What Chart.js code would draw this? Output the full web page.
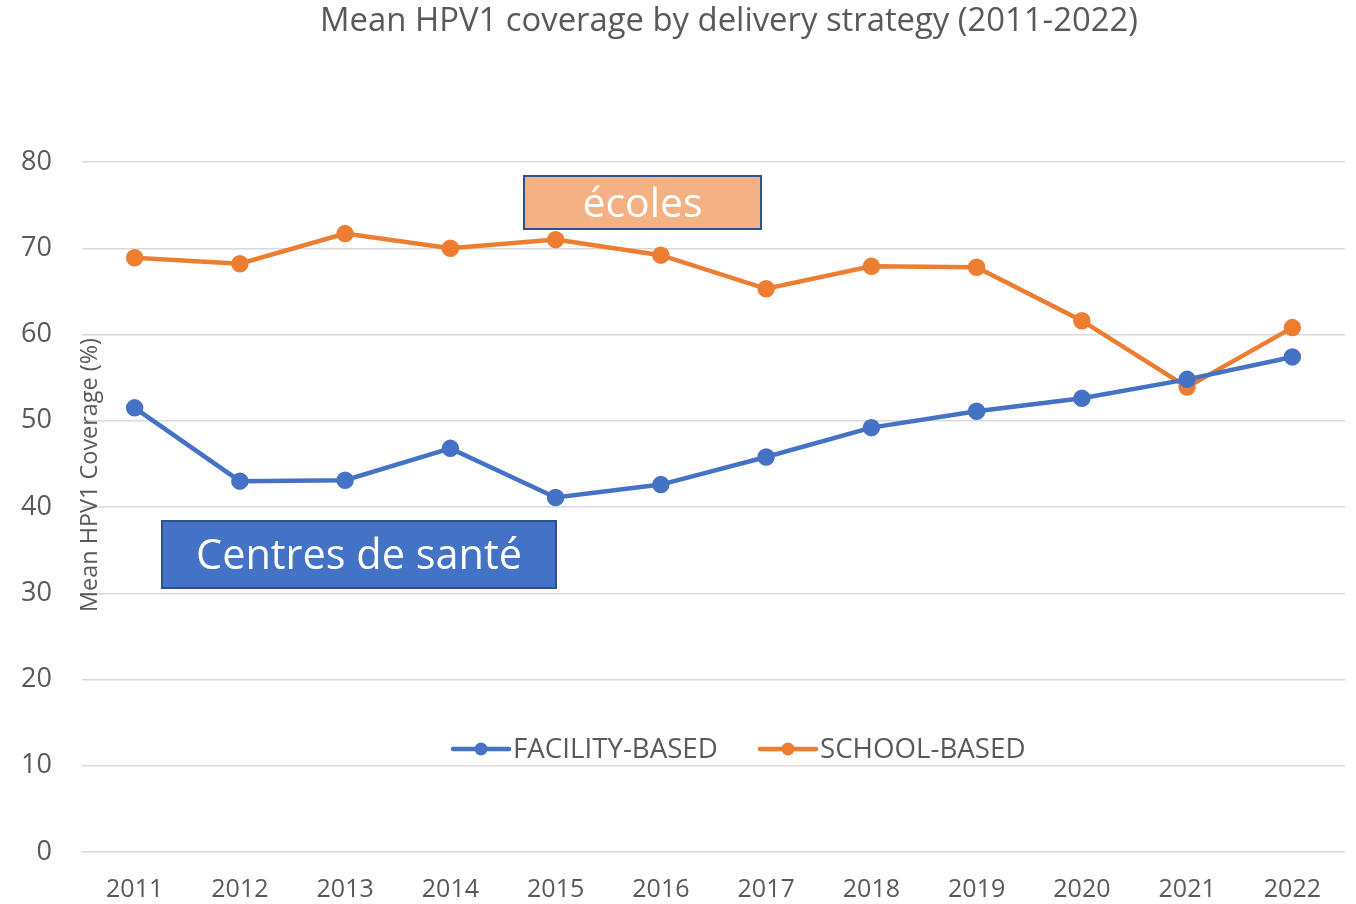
<!DOCTYPE html>
<html><head><meta charset="utf-8">
<script src="https://cdn.jsdelivr.net/npm/chart.js@4.4.0/dist/chart.umd.min.js"></script>
<style>html,body{margin:0;padding:0;background:#fff;}#wrap{width:1356px;height:904px;}</style>
</head><body><div id="wrap"><canvas id="c" width="1356" height="904"></canvas></div>
<script>
const years = ['2011','2012','2013','2014','2015','2016','2017','2018','2019','2020','2021','2022'];
const facilityBased = [51.5, 43.0, 43.1, 46.8, 41.1, 42.6, 45.8, 49.2, 51.1, 52.6, 54.8, 57.4];
const schoolBased = [68.9, 68.2, 71.7, 70.0, 71.0, 69.2, 65.3, 67.9, 67.8, 61.6, 53.9, 60.8];
const seriesNames = ['FACILITY-BASED', 'SCHOOL-BASED'];
const titleText = 'Mean HPV1 coverage by delivery strategy (2011-2022)';
const yAxisTitle = 'Mean HPV1 Coverage (%)';
const FONT = '"Open Sans", "Liberation Sans", sans-serif';
const TXT = '#595959';
const BLUE = '#4472C4', ORANGE = '#ED7D31';

function fitFont(ctx, text, targetW, base, weight) {
  ctx.font = (weight||'') + ' ' + base + 'px ' + FONT;
  const w = ctx.measureText(text).width;
  return base * targetW / w;
}

const overlay = {
  id: 'overlay',
  afterDraw(chart) {
    const ctx = chart.ctx;
    ctx.save();
    // title
    let fs = fitFont(ctx, titleText, 818, 28);
    ctx.font = fs + 'px ' + FONT; ctx.fillStyle = TXT;
    ctx.textAlign = 'center'; ctx.textBaseline = 'middle';
    ctx.fillText(titleText, 729, 22);
    // y-axis title
    fs = fitFont(ctx, yAxisTitle, 274, 20);
    ctx.save();
    ctx.translate(90, 475); ctx.rotate(-Math.PI/2);
    ctx.font = fs + 'px ' + FONT; ctx.fillStyle = TXT;
    ctx.textAlign = 'center'; ctx.textBaseline = 'middle';
    ctx.fillText(yAxisTitle, 0, 0);
    ctx.restore();
    // legend
    const items = [{x:453, c:BLUE, t:seriesNames[0]}, {x:760, c:ORANGE, t:seriesNames[1]}];
    fs = fitFont(ctx, seriesNames[0], 205, 24);
    items.forEach(it => {
      ctx.strokeStyle = it.c; ctx.lineWidth = 4.5; ctx.lineCap = 'round';
      ctx.beginPath(); ctx.moveTo(it.x, 749); ctx.lineTo(it.x+56, 749); ctx.stroke();
      ctx.fillStyle = it.c; ctx.beginPath(); ctx.arc(it.x+28, 749, 6.5, 0, Math.PI*2); ctx.fill();
      ctx.font = fs + 'px ' + FONT; ctx.fillStyle = TXT;
      ctx.textAlign = 'left'; ctx.textBaseline = 'middle';
      ctx.fillText(it.t, it.x+60, 750);
    });
    // annotation boxes
    const boxes = [
      {x:524, y:176, w:237, h:53, fill:'#F4B183', text:'écoles', tw:120},
      {x:162, y:521, w:394, h:67, fill:BLUE, text:'Centres de santé', tw:326}
    ];
    boxes.forEach(b => {
      ctx.fillStyle = b.fill; ctx.fillRect(b.x, b.y, b.w, b.h);
      ctx.strokeStyle = '#2F528F'; ctx.lineWidth = 2; ctx.strokeRect(b.x, b.y, b.w, b.h);
      const f = fitFont(ctx, b.text, b.tw, 40);
      ctx.font = f + 'px ' + FONT; ctx.fillStyle = '#FFFFFF';
      ctx.textAlign = 'center'; ctx.textBaseline = 'middle';
      ctx.fillText(b.text, b.x + b.w/2, b.y + b.h/2 + 3);
    });
    ctx.restore();
  }
};

new Chart(document.getElementById('c'), {
  type: 'line',
  data: {
    labels: years,
    datasets: [
      {label: seriesNames[0], data: facilityBased, borderColor: BLUE, backgroundColor: BLUE, borderWidth: 4.5, pointRadius: 6.5, pointHoverRadius: 6.5, tension: 0},
      {label: seriesNames[1], data: schoolBased, borderColor: ORANGE, backgroundColor: ORANGE, borderWidth: 4.5, pointRadius: 6.5, pointHoverRadius: 6.5, tension: 0}
    ]
  },
  options: {
    responsive: false, animation: false,
    layout: {padding: {top: 162, right: 11, left: 0, bottom: 0}},
    plugins: {legend: {display: false}, title: {display: false}, tooltip: {enabled: false}},
    scales: {
      x: {
        offset: true,
        grid: {display: false, drawTicks: false},
        border: {display: false},
        ticks: {color: TXT, font: {family: FONT, size: 25}, padding: 23, maxRotation: 0},
        afterFit(s) { s.height = 52; }
      },
      y: {
        min: 0, max: 80,
        grid: {color: '#D9D9D9', lineWidth: 1.5, drawTicks: false},
        border: {display: false},
        ticks: {stepSize: 10, color: TXT, font: {family: FONT, size: 27}, padding: 30},
        afterFit(s) { s.width = 82; }
      }
    }
  },
  plugins: [overlay]
});
</script>
</body></html>
